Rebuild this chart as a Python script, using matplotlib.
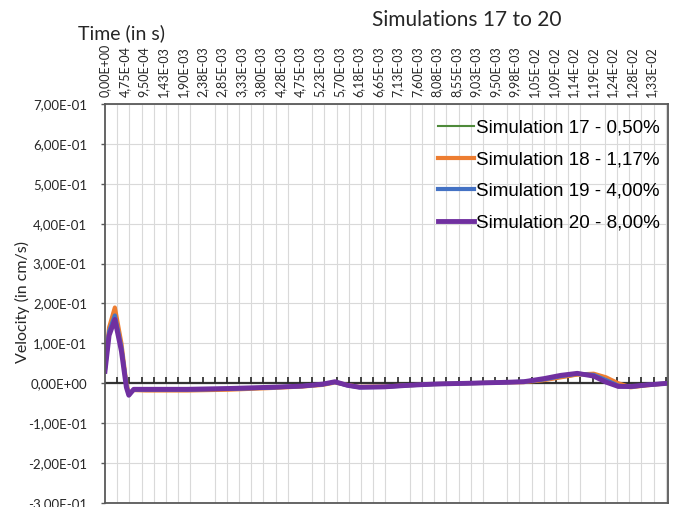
import numpy as np
import matplotlib.pyplot as plt
from matplotlib.ticker import FixedLocator, MultipleLocator, FuncFormatter

plt.rcParams['font.family'] = ['Lato', 'DejaVu Sans']

# Tiempo (s) de los puntos
time_s = [0, 1.0e-4, 2.4e-4, 4.0e-4, 5.2e-4, 5.8e-4, 7.0e-4, 1.0e-3, 2.0e-3,
          3.0e-3, 4.0e-3, 4.8e-3, 5.3e-3, 5.6e-3, 5.9e-3, 6.2e-3, 6.8e-3,
          7.4e-3, 8.0e-3, 8.8e-3, 9.6e-3, 1.02e-2, 1.07e-2, 1.11e-2, 1.15e-2,
          1.19e-2, 1.22e-2, 1.25e-2, 1.28e-2, 1.32e-2, 1.37e-2]

# Velocidad (cm/s) por simulación
sim17 = [0.035, 0.13, 0.18, 0.09, -0.005, -0.025, -0.016, -0.016, -0.016,
         -0.014, -0.011, -0.007, -0.003, 0.003, -0.004, -0.009, -0.008,
         -0.005, -0.002, 0.000, 0.002, 0.003, 0.008, 0.014, 0.020,
         0.021, 0.012, -0.002, -0.009, -0.005, 0.000]
sim18 = [0.04, 0.14, 0.19, 0.10, 0.0, -0.025, -0.017, -0.018, -0.018,
         -0.016, -0.012, -0.008, -0.004, 0.002, -0.004, -0.009, -0.008,
         -0.005, -0.002, 0.000, 0.002, 0.003, 0.008, 0.015, 0.022,
         0.024, 0.015, 0.000, -0.010, -0.005, 0.000]
sim19 = [0.035, 0.13, 0.17, 0.09, -0.005, -0.028, -0.016, -0.016, -0.016,
         -0.014, -0.011, -0.007, -0.003, 0.003, -0.005, -0.010, -0.009,
         -0.005, -0.002, 0.000, 0.002, 0.004, 0.010, 0.018, 0.024,
         0.021, 0.008, -0.006, -0.009, -0.004, 0.000]
sim20 = [0.03, 0.12, 0.16, 0.08, -0.01, -0.03, -0.015, -0.015, -0.015,
         -0.013, -0.010, -0.007, -0.002, 0.004, -0.005, -0.010, -0.009,
         -0.005, -0.002, 0.000, 0.002, 0.004, 0.012, 0.020, 0.025,
         0.018, 0.003, -0.008, -0.008, -0.004, 0.000]

series = [sim17, sim18, sim19, sim20]
series_names = ['Simulation 17 - 0,50%', 'Simulation 18 - 1,17%',
                'Simulation 19 - 4,00%', 'Simulation 20 - 8,00%']
series_colors = ['#4e8a3a', '#ed7d31', '#4472c4', '#7030a0']
series_widths = [1.5, 3.0, 3.0, 3.5]

# Etiquetas del eje de tiempo (arriba)
time_labels = ['0,00E+00', '4,75E-04', '9,50E-04', '1,43E-03', '1,90E-03',
               '2,38E-03', '2,85E-03', '3,33E-03', '3,80E-03', '4,28E-03',
               '4,75E-03', '5,23E-03', '5,70E-03', '6,18E-03', '6,65E-03',
               '7,13E-03', '7,60E-03', '8,08E-03', '8,55E-03', '9,03E-03',
               '9,50E-03', '9,98E-03', '1,05E-02', '1,09E-02', '1,14E-02',
               '1,19E-02', '1,24E-02', '1,28E-02', '1,33E-02']
label_step = 4.75e-4
grid_step = label_step * 5 / 8
x_max = 1.371e-2
y_min, y_max, y_step = -0.3, 0.7, 0.1

axis_gray = '#595959'
grid_gray = '#d9d9d9'

fig = plt.figure(figsize=(6.83, 5.07), dpi=100)
ax = fig.add_axes([105 / 683, 1 - 503 / 507, 563 / 683, 399 / 507])

# Línea de cero con marcas hacia arriba (bajo las series)
ax.axhline(0, color='#333333', lw=1.6, zorder=1.5)
zero_ticks = np.arange(grid_step, x_max, grid_step)
ax.plot(zero_ticks, np.zeros_like(zero_ticks), ls='none', marker=2, ms=4.5, mew=1.2,
        color='#262626', zorder=1.6)

for vals, name, color, lw in zip(series, series_names, series_colors, series_widths):
    ax.plot(time_s, vals, color=color, lw=lw, label=name, solid_joinstyle='round',
            zorder=2)

ax.set_xlim(0, x_max)
ax.set_ylim(y_min, y_max)

# Eje x: etiquetas arriba, rejilla vertical cada grid_step
ax.xaxis.tick_top()
ax.xaxis.set_major_locator(FixedLocator([i * label_step for i in range(len(time_labels))]))
ax.set_xticklabels(time_labels, rotation=90, fontsize=9)
ax.xaxis.set_minor_locator(MultipleLocator(grid_step))
ax.tick_params(axis='x', which='both', top=True, bottom=False, length=0,
               labeltop=True, labelbottom=False, pad=5, colors='#262626')
ax.xaxis.grid(True, which='minor', color=grid_gray, lw=0.8)
ax.xaxis.grid(False, which='major')

# Eje y
ax.yaxis.set_major_locator(MultipleLocator(y_step))
ax.yaxis.set_major_formatter(FuncFormatter(lambda v, p: f"{v:.2E}".replace('.', ',')))
ax.tick_params(axis='y', length=3, width=1, pad=10, labelsize=9.5, color=axis_gray,
               labelcolor='#262626')
ax.yaxis.grid(True, color=grid_gray, lw=0.8)
ax.set_axisbelow(True)

for side in ['top', 'right', 'left', 'bottom']:
    ax.spines[side].set_color(axis_gray)
    ax.spines[side].set_linewidth(1.3)

handles, labels = ax.get_legend_handles_labels()
ax.legend(handles, labels, loc='upper right', bbox_to_anchor=(1.005, 0.99), frameon=False,
          prop={'family': 'Liberation Sans', 'size': 13.5}, handlelength=1.9,
          handletextpad=0.1, labelspacing=0.78, borderaxespad=0.2)

fig.text(467 / 683, 1 - 20 / 507, 'Simulations 17 to 20', ha='center', va='center',
         fontsize=15, color='#262626')
fig.text(122 / 683, 1 - 33 / 507, 'Time (in s)', ha='center', va='center',
         fontsize=14, color='#262626')
fig.text(22 / 683, 1 - 302 / 507, 'Velocity (in cm/s)', ha='center', va='center',
         rotation=90, fontsize=11.5, color='#262626')

fig.savefig('out.png', dpi=100)
